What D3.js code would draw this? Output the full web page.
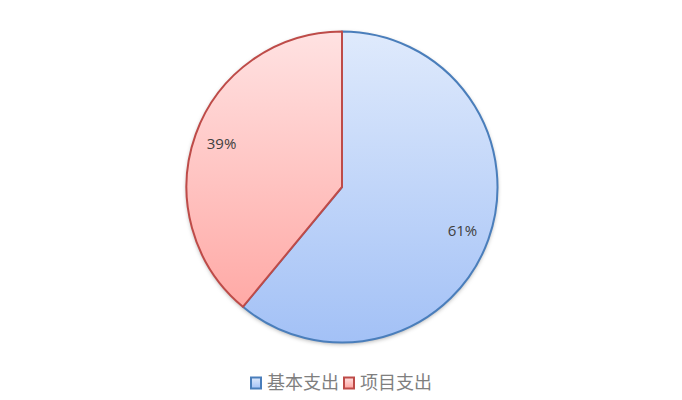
<!DOCTYPE html>
<html>
<head>
<meta charset="utf-8">
<script src="https://cdn.jsdelivr.net/npm/d3@7"></script>
<style>
  body { margin: 0; background: #fff; }
</style>
</head>
<body>
<svg id="chart" width="682" height="400"></svg>
<script>
var categories = ["基本支出", "项目支出"];
var values = [61, 39];
var labels = ["61%", "39%"];

var svg = d3.select("#chart");
var width = 682, height = 400;
var cx = 342, cy = 187, radius = 155.5;

var fills = [["#dfeafc", "#a3c1f6"], ["#ffe2e2", "#ffa29e"]];
var strokes = ["#4a7ebb", "#be4b48"];

var defs = svg.append("defs");
categories.forEach(function(c, i){
    var g = defs.append("linearGradient")
        .attr("id", "grad" + i)
        .attr("gradientUnits", "userSpaceOnUse")
        .attr("x1", 0).attr("y1", -radius)
        .attr("x2", 0).attr("y2", radius);
    g.append("stop").attr("offset", "0%").attr("stop-color", fills[i][0]);
    g.append("stop").attr("offset", "100%").attr("stop-color", fills[i][1]);

    var lg = defs.append("linearGradient")
        .attr("id", "lgrad" + i)
        .attr("x1", 0).attr("y1", 0).attr("x2", 0).attr("y2", 1);
    lg.append("stop").attr("offset", "0%").attr("stop-color", fills[i][0]);
    lg.append("stop").attr("offset", "100%").attr("stop-color", fills[i][1]);
});

var shadow = defs.append("filter").attr("id", "shadow")
    .attr("x", "-10%").attr("y", "-10%").attr("width", "120%").attr("height", "120%");
shadow.append("feDropShadow")
    .attr("dx", 0).attr("dy", 1.5).attr("stdDeviation", 2)
    .attr("flood-color", "#000").attr("flood-opacity", 0.35);

var pie = d3.pie().sort(null).value(function(d){ return d; });
var arc = d3.arc().innerRadius(0).outerRadius(radius);
var labelArc = d3.arc().innerRadius(128).outerRadius(128);

var g = svg.append("g").attr("transform", "translate(" + cx + "," + cy + ")");

g.append("circle")
    .attr("r", radius)
    .attr("fill", "#fff")
    .attr("filter", "url(#shadow)");

g.selectAll(".slice")
    .data(pie(values))
    .enter()
    .append("path")
    .attr("class", "slice")
    .attr("d", arc)
    .attr("fill", function(d, i){ return "url(#grad" + i + ")"; })
    .attr("stroke", function(d, i){ return strokes[i]; })
    .attr("stroke-width", 2)
    .attr("stroke-linejoin", "round");

g.selectAll(".lbl")
    .data(pie(values))
    .enter()
    .append("text")
    .attr("class", "lbl")
    .attr("transform", function(d){ return "translate(" + labelArc.centroid(d) + ")"; })
    .attr("text-anchor", "middle")
    .attr("dy", "0.35em")
    .attr("fill", "#404040")
    .attr("font-family", "'Open Sans', 'Noto Sans', sans-serif")
    .attr("font-size", "15px")
    .text(function(d, i){ return labels[i]; });

// legend
var legend = svg.append("g").attr("transform", "translate(250,383)");
var lx = 0;
categories.forEach(function(c, i){
    var item = legend.append("g").attr("transform", "translate(" + lx + ",0)");
    item.append("rect")
        .attr("x", 1).attr("y", -5.5)
        .attr("width", 10).attr("height", 11)
        .attr("fill", "url(#lgrad" + i + ")")
        .attr("stroke", strokes[i])
        .attr("stroke-width", 2);
    var t = item.append("text")
        .attr("x", 17).attr("y", 0)
        .attr("dy", "0.36em")
        .attr("fill", "#7f7f7f")
        .attr("font-family", "'Noto Sans CJK SC', sans-serif")
        .attr("font-size", "18px")
        .text(c);
    lx += 17 + t.node().getComputedTextLength() + 4;
});
</script>
</body>
</html>
